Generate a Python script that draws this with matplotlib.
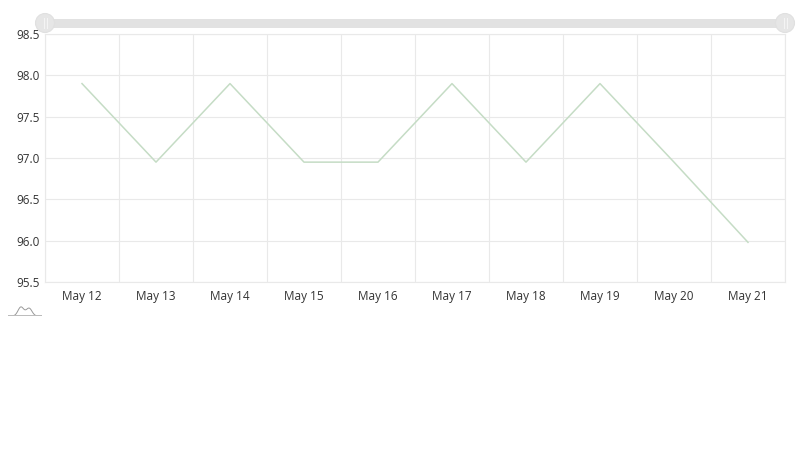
import matplotlib.pyplot as plt
from matplotlib.patches import FancyBboxPatch
import numpy as np

days = ["May 12", "May 13", "May 14", "May 15", "May 16",
        "May 17", "May 18", "May 19", "May 20", "May 21"]
temps = [97.9, 96.95, 97.9, 96.95, 96.95, 97.9, 96.95, 97.9, 96.95, 95.98]
yticks = [95.5, 96.0, 96.5, 97.0, 97.5, 98.0, 98.5]

plt.rcParams["font.family"] = ["Open Sans", "DejaVu Sans"]

fig = plt.figure(figsize=(8, 4.5), dpi=100)
ax = fig.add_axes([45 / 800, 1 - 282 / 450, 740 / 800, 248 / 450])

x = np.arange(len(days))
ax.plot(x, temps, color="#c5dcc5", lw=1.1)

ax.set_xlim(-0.5, len(days) - 0.5)
ax.set_ylim(95.5, 98.5)
ax.set_yticks(yticks)
ax.set_yticklabels([f"{v:.1f}" for v in yticks])
ax.set_xticks(x)
ax.set_xticklabels(days)
ax.set_xticks(np.arange(len(days) + 1) - 0.5, minor=True)

ax.grid(False)
ax.grid(True, which="minor", axis="x", color="#e9e9e9", lw=0.8)
ax.grid(True, which="major", axis="y", color="#e9e9e9", lw=0.8)
ax.tick_params(axis="both", which="both", length=0, labelsize=8.5, colors="#333333")
ax.tick_params(axis="x", pad=6)
ax.tick_params(axis="y", pad=4)
for s in ax.spines.values():
    s.set_color("#e9e9e9")
    s.set_linewidth(0.8)
ax.set_axisbelow(True)

# scrollbar on top
bar = FancyBboxPatch((45 / 800, 1 - 28 / 450), 740 / 800, 9 / 450,
                     boxstyle="round,pad=0,rounding_size=0.008",
                     transform=fig.transFigure, fc="#e2e2e2", ec="none")
fig.patches.append(bar)
for gx in (45, 785):
    grip = plt.Circle((gx, 450 - 23), 9.5, transform=None, fc="#e6e6e6",
                      ec="#e0e0e0", lw=0.8)
    fig.patches.append(grip)
    for dx in (-1.5, 1.5):
        fig.lines.append(plt.Line2D([gx + dx, gx + dx], [450 - 28, 450 - 18],
                                    transform=None, color="#f4f4f4", lw=0.8))

# small logo at bottom left
logo = fig.add_axes([8 / 800, 1 - 316 / 450, 34 / 800, 12 / 450])
lx = np.linspace(0, 1, 60)
logo.plot(lx, np.exp(-((lx - 0.38) / 0.12) ** 2) * 0.75 + np.exp(-((lx - 0.62) / 0.12) ** 2) * 0.65,
          color="#999999", lw=0.7)
logo.plot([0, 1], [0.05, 0.05], color="#bbbbbb", lw=0.7)
logo.set_xlim(0, 1)
logo.set_ylim(0, 1)
logo.axis("off")

fig.savefig("out.png", dpi=100)
